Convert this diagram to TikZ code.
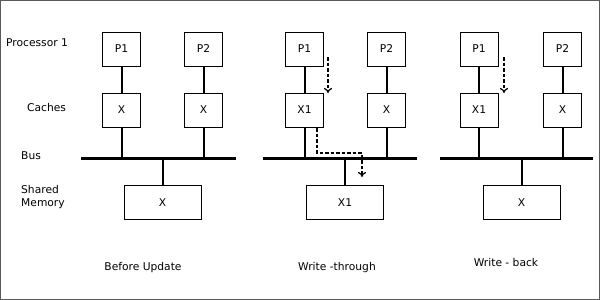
\documentclass[tikz,border=0pt]{standalone}
\usepackage{fontspec}
\setmainfont{DejaVu Sans}
\usetikzlibrary{arrows.meta}
\begin{document}
\begin{tikzpicture}[
    x=1pt, y=-1pt,
    font=\fontsize{10.7}{13}\selectfont,
    unit/.style={rectangle, draw, line width=0.9pt, fill=white, minimum width=38pt, minimum height=34pt, inner sep=0pt},
    memory/.style={rectangle, draw, line width=0.9pt, fill=white, minimum width=77pt, minimum height=34pt, inner sep=0pt},
    label/.style={anchor=west, inner sep=0pt},
    link/.style={draw, line width=2pt},
    bus/.style={draw, line width=3pt},
    flow/.style={draw, line width=1.4pt, dash pattern=on 3.5pt off 2pt, -{To[length=5pt,width=8pt,line width=1.2pt]}}
]
    \useasboundingbox (0,0) rectangle (600,300);
    \draw [gray!70!black] (0.5,0.5) rectangle (599.5,299.5);

    % row labels
    \node [label] (lproc) at (6,43) {Processor 1};
    \node [label] (lcache) at (27,108) {Caches};
    \node [label] (lbus) at (21,156) {Bus};
    \node [label, align=left] (lmem) at (21,197.5) {Shared\\Memory};

    % before update
    \coordinate (busAl) at (81,158.5);
    \coordinate (busAr) at (236,158.5);
    \draw [bus] (busAl) -- (busAr);
    \node [unit] (procA1) at (121.5,49) {P1};
    \node [unit] (procA2) at (203.5,49) {P2};
    \node [unit] (cacheA1) at (121.5,110) {X};
    \node [unit] (cacheA2) at (203.5,110) {X};
    \node [memory] (memA) at (162.5,202.5) {X};
    \draw [link] (procA1) -- (cacheA1);
    \draw [link] (procA2) -- (cacheA2);
    \draw [link] (cacheA1) -- (cacheA1 |- busAl);
    \draw [link] (cacheA2) -- (cacheA2 |- busAl);
    \draw [link] (memA) -- (memA |- busAl);
    \node (capA) at (143,268) {Before Update};

    % write-through
    \coordinate (busBl) at (263,158.5);
    \coordinate (busBr) at (417,158.5);
    \draw [bus] (busBl) -- (busBr);
    \node [unit] (procB1) at (304.5,49) {P1};
    \node [unit] (procB2) at (386.5,49) {P2};
    \node [unit] (cacheB1) at (304.5,110) {X1};
    \node [unit] (cacheB2) at (386.5,110) {X};
    \node [memory] (memB) at (345,202.5) {X1};
    \draw [link] (procB1) -- (cacheB1);
    \draw [link] (procB2) -- (cacheB2);
    \draw [link] (cacheB1) -- (cacheB1 |- busBl);
    \draw [link] (cacheB2) -- (cacheB2 |- busBl);
    \draw [link] (memB) -- (memB |- busBl);
    \coordinate (wtA) at (328,57);
    \coordinate (wtB) at (328,93);
    \coordinate (wtC) at (317,128);
    \coordinate (wtD) at (362,177);
    \draw [flow] (wtA) -- (wtB);
    \draw [flow] (wtC) -- (317,153) -| (wtD);
    \node (capB) at (337,268) {Write -through};

    % write-back
    \coordinate (busCl) at (440,158.5);
    \coordinate (busCr) at (593,158.5);
    \draw [bus] (busCl) -- (busCr);
    \node [unit] (procC1) at (479,49) {P1};
    \node [unit] (procC2) at (562.5,49) {P2};
    \node [unit] (cacheC1) at (479,110) {X1};
    \node [unit] (cacheC2) at (562.5,110) {X};
    \node [memory] (memC) at (521.5,202.5) {X};
    \draw [link] (procC1) -- (cacheC1);
    \draw [link] (procC2) -- (cacheC2);
    \draw [link] (cacheC1) -- (cacheC1 |- busCl);
    \draw [link] (cacheC2) -- (cacheC2 |- busCl);
    \draw [link] (memC) -- (memC |- busCl);
    \coordinate (wbA) at (504,57);
    \coordinate (wbB) at (504,93);
    \draw [flow] (wbA) -- (wbB);
    \node (capC) at (506,263) {Write - back};
\end{tikzpicture}
\end{document}
